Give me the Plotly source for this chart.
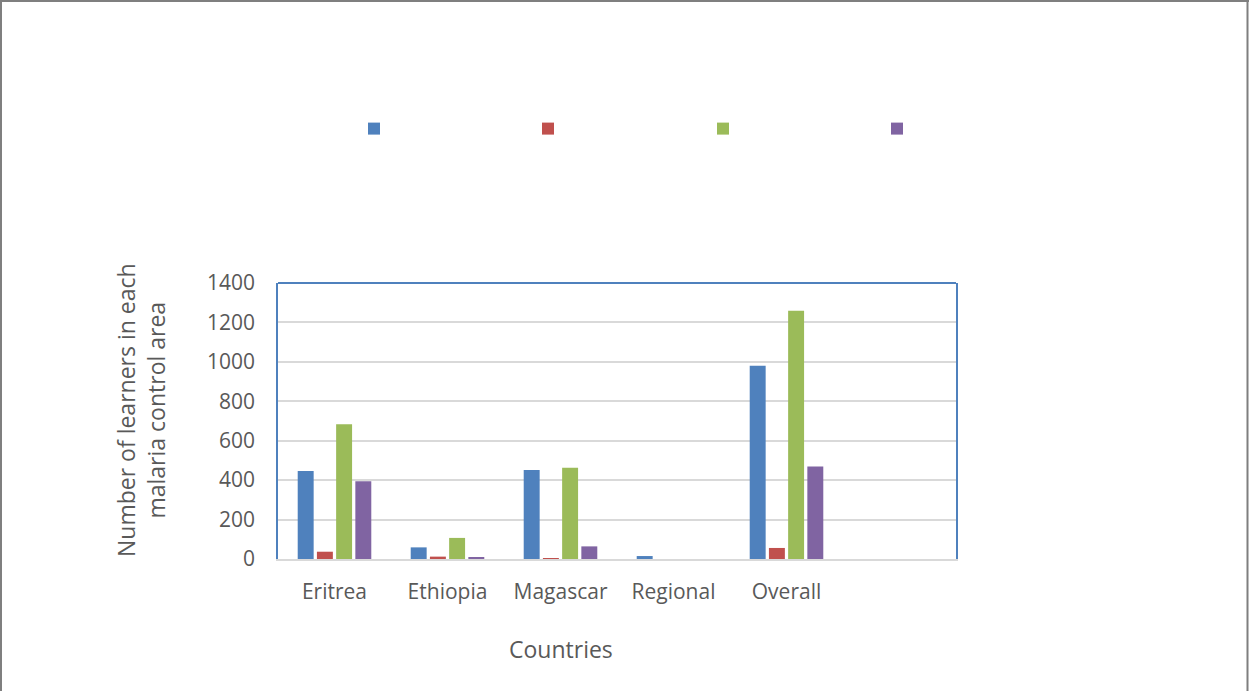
import plotly.graph_objects as go

categories = ["Eritrea", "Ethiopia", "Magascar", "Regional", "Overall"]
series_names = ["", "", "", ""]
series1 = [446, 59, 452, 15, 980]
series2 = [37, 12, 5, 0, 56]
series3 = [683, 107, 463, 0, 1259]
series4 = [395, 8, 64, 0, 469]
colors = ["#4F81BD", "#C0504D", "#9BBB59", "#8064A2"]
y_ticks = [0, 200, 400, 600, 800, 1000, 1200, 1400]

W, H = 1249, 691
L, R, T, B = 278, 293, 283, 132
pw, ph = W - L - R, H - T - B

def px_x(p):
    return (p - L) / pw
def px_y(p):
    return (H - B - p) / ph

legend_ids = ["legend", "legend2", "legend3", "legend4"]
legend_left_px = [354, 528, 703, 877]

x_pos = list(range(len(categories)))
fig = go.Figure()
for name, vals, c, lg in zip(series_names, [series1, series2, series3, series4], colors, legend_ids):
    fig.add_trace(go.Bar(x=x_pos, y=vals, name=name, legend=lg,
                         marker=dict(color=c, line=dict(width=0))))

font_color = "#595959"
layout_legends = {}
for lg, lx in zip(legend_ids, legend_left_px):
    layout_legends[lg] = dict(orientation="h", xref="container", yref="container",
                              x=lx / W, y=1 - (123 - 10) / H, xanchor="left", yanchor="top",
                              font=dict(size=14), itemclick=False, bgcolor="rgba(0,0,0,0)")

fig.update_layout(
    width=W, height=H,
    margin=dict(l=L, r=R, t=T, b=B),
    paper_bgcolor="white", plot_bgcolor="white",
    font=dict(family="Open Sans, Liberation Sans, sans-serif", color=font_color, size=21),
    barmode="group", bargap=0.32, bargroupgap=0.17,
    showlegend=True,
    xaxis=dict(range=[-0.5, 5.5], tickvals=x_pos, ticktext=categories,
               showgrid=False, showline=True, linecolor="#D9D9D9", linewidth=2,
               ticks="", ticklabelstandoff=13, tickfont=dict(size=21, color=font_color),
               fixedrange=True, zeroline=False),
    yaxis=dict(range=[0, 1400], tickvals=y_ticks, showgrid=True, gridcolor="#D9D9D9", gridwidth=1.5,
               showline=True, linecolor="#4F81BD", linewidth=1.5, mirror=True,
               ticks="", ticklabelstandoff=17, tickfont=dict(size=21, color=font_color),
               zeroline=False, fixedrange=True),
    **layout_legends,
)
# axis titles
fig.add_annotation(text="Countries", xref="paper", yref="paper", x=px_x(561), y=px_y(649),
                   showarrow=False, font=dict(size=23, color=font_color), xanchor="center", yanchor="middle")
fig.add_annotation(text="Number of learners in each<br>malaria control area", xref="paper", yref="paper",
                   x=px_x(141), y=px_y(410), textangle=-90, showarrow=False,
                   font=dict(size=23, color=font_color), xanchor="center", yanchor="middle")
# top border of plot area (blue)
fig.add_shape(type="line", xref="paper", yref="paper", x0=0, x1=1, y0=1, y1=1,
              line=dict(color="#4F81BD", width=2))
# outer gray frame of the picture
fig.add_shape(type="line", xref="paper", yref="paper", x0=px_x(1), x1=px_x(1), y0=px_y(0), y1=px_y(H),
              line=dict(color="#7F7F7F", width=2))
fig.add_shape(type="line", xref="paper", yref="paper", x0=px_x(0), x1=px_x(W), y0=px_y(1), y1=px_y(1),
              line=dict(color="#7F7F7F", width=2))
fig.add_shape(type="line", xref="paper", yref="paper", x0=px_x(1247.5), x1=px_x(1247.5), y0=px_y(0), y1=px_y(H),
              line=dict(color="#7F7F7F", width=2))

fig.write_html("out.html", config=dict(displayModeBar=False))
